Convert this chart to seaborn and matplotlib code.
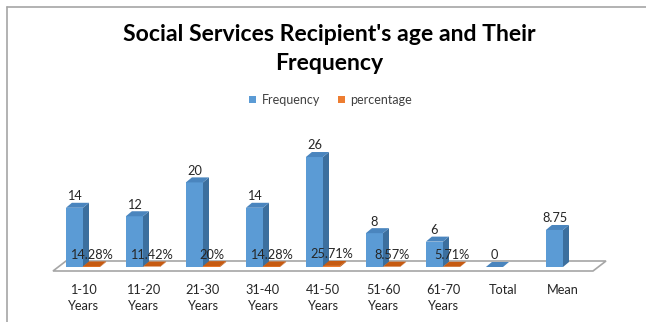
import numpy as np
import pandas as pd
import matplotlib
matplotlib.use("Agg")
import matplotlib.pyplot as plt
from matplotlib.patches import Polygon, Patch
from matplotlib.lines import Line2D
import seaborn as sns

# ---- data ----
categories = ["1-10\nYears", "11-20\nYears", "21-30\nYears", "31-40\nYears",
              "41-50\nYears", "51-60\nYears", "61-70\nYears", "Total", "Mean"]
frequency = [14, 12, 20, 14, 26, 8, 6, 0, 8.75]
percentage = [0.1428, 0.1142, 0.20, 0.1428, 0.2571, 0.0857, 0.0571, np.nan, np.nan]
series_names = ["Frequency", "percentage"]
title_text = "Social Services Recipient's age and Their\nFrequency"

df = pd.DataFrame({
    "category": categories * 2,
    "series": [series_names[0]] * len(categories) + [series_names[1]] * len(categories),
    "value": frequency + percentage,
})

BLUE = "#5B9BD5"
BLUE_SIDE = "#3C6F9E"
BLUE_TOP = "#4A85BE"
ORANGE = "#ED7D31"
ORANGE_SIDE = "#B9550F"
ORANGE_TOP = "#C65A11"
EDGE = "#A6A6A6"

sns.set_theme(style="white")
plt.rcParams["font.family"] = ["Lato", "DejaVu Sans"]

W, H = 646, 322
fig = plt.figure(figsize=(W / 100, H / 100), dpi=100)
ax_left, ax_bottom_px, ax_w_px = 53, 267, 540
ylo, yhi = 0, 30
ppu_y = 4.23
ax_h_px = (yhi - ylo) * ppu_y
ax = fig.add_axes([ax_left / W, (H - ax_bottom_px) / H, ax_w_px / W, ax_h_px / H])

sns.barplot(data=df, x="category", y="value", hue="series",
            palette=[BLUE, ORANGE], width=0.57, saturation=1,
            errorbar=None, legend=False, ax=ax, zorder=3)

ax.set_xlim(-0.5, len(categories) - 0.5)
ax.set_ylim(ylo, yhi)
ppu_x = ax_w_px / len(categories)

# floor (3D base)
fdx, fdy_front, fdy_back = 13 / ppu_x, -4 / ppu_y, 6 / ppu_y
x0f, x1f = -0.5, len(categories) - 0.5
floor = Polygon([(x0f, fdy_front), (x1f, fdy_front), (x1f + fdx, fdy_back), (x0f + fdx, fdy_back)],
                closed=True, facecolor="white", edgecolor=EDGE, lw=1.2, zorder=1, clip_on=False)
ax.add_patch(floor)

# 3D faces for bars
dx, dy = 6 / ppu_x, 5 / ppu_y
for ci, cont in enumerate(ax.containers):
    side_c = [BLUE_SIDE, ORANGE_SIDE][ci]
    top_c = [BLUE_TOP, ORANGE_TOP][ci]
    for p in cont.patches:
        h = p.get_height()
        if not np.isfinite(h):
            continue
        x0 = p.get_x()
        w = p.get_width()
        z = 3 + ci
        p.set_zorder(z)
        p.set_clip_on(False)
        p.set_linewidth(0)
        side = Polygon([(x0 + w, 0), (x0 + w + dx, dy), (x0 + w + dx, h + dy), (x0 + w, h)],
                       closed=True, facecolor=side_c, edgecolor="none", zorder=z, clip_on=False)
        top = Polygon([(x0, h), (x0 + dx, h + dy), (x0 + w + dx, h + dy), (x0 + w, h)],
                      closed=True, facecolor=top_c, edgecolor="none", zorder=z, clip_on=False)
        ax.add_patch(side)
        ax.add_patch(top)

# data labels
for ci, cont in enumerate(ax.containers):
    for p in cont.patches:
        h = p.get_height()
        if not np.isfinite(h):
            continue
        if ci == 0:
            txt = f"{h:g}"
        else:
            txt = f"{h * 100:g}%"
        ax.annotate(txt, (p.get_x() + p.get_width() / 2, h), xytext=(0, 4),
                    textcoords="offset points", ha="center", va="bottom",
                    fontsize=9.2, color="#262626", zorder=10, annotation_clip=False)

sns.despine(ax=ax, left=True, bottom=True)
ax.set_yticks([])
ax.set_xlabel("")
ax.set_ylabel("")
ax.tick_params(axis="x", length=0, pad=12, labelsize=9.2, labelcolor="#262626")
for lbl in ax.get_xticklabels():
    lbl.set_linespacing(1.4)
    lbl.set_verticalalignment("top")
ax.patch.set_alpha(0)

# title
fig.text(0.51, 1 - 49 / H, title_text, ha="center", va="center", fontsize=16.6,
         fontweight="bold", color="#000000", linespacing=1.45)

# legend
handles = [Patch(facecolor=BLUE, edgecolor="none", label=series_names[0]),
           Patch(facecolor=ORANGE, edgecolor="none", label=series_names[1])]
fig.legend(handles=handles, loc="center", bbox_to_anchor=(0.512, 1 - 100 / H), ncol=2,
           frameon=False, fontsize=9, handlelength=0.55, handleheight=0.55,
           handletextpad=0.45, columnspacing=1.4, labelcolor="#404040")

# outer border (top and left edges)
fig.add_artist(Line2D([7 / W, 1], [1 - 7 / H, 1 - 7 / H], color=EDGE, lw=1.2, transform=fig.transFigure))
fig.add_artist(Line2D([7 / W, 7 / W], [0, 1 - 7 / H], color=EDGE, lw=1.2, transform=fig.transFigure))

fig.savefig("out.png", dpi=100, facecolor="white")
